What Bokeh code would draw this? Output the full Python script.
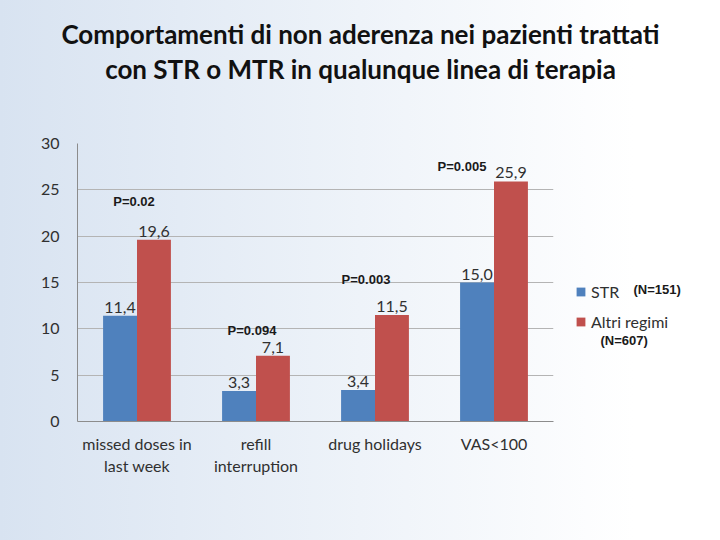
from bokeh.core.properties import value
from bokeh.embed import file_html
from bokeh.layouts import column, row
from bokeh.models import (CategoricalAxis, ColumnDataSource, FactorRange, Label, Legend, LegendItem,
                          Range1d, SingleIntervalTicker)
from bokeh.plotting import figure
from bokeh.resources import INLINE
from bokeh.transform import dodge

# data
title_lines = ["Comportamenti di non aderenza nei pazienti trattati",
               "con STR o MTR in qualunque linea di terapia"]
label_line1 = ["missed doses in", "refill", "drug holidays", "VAS<100"]
label_line2 = ["last week", "interruption", " ", "  "]  # blanks kept distinct for the factor range
str_vals = [11.4, 3.3, 3.4, 15.0]
altri_vals = [19.6, 7.1, 11.5, 25.9]
p_values = ["P=0.02", "P=0.094", "P=0.003", "P=0.005"]
series_names = ["STR", "Altri regimi"]
n_labels = ["(N=151)", "(N=607)"]

FONT = "Lato"
BLUE = "#4f81bd"
RED = "#c0504d"
TXT = "#303030"


def bare(fig):
    fig.border_fill_alpha = 0
    fig.background_fill_alpha = 0
    fig.outline_line_color = None


source = ColumnDataSource(data=dict(
    cat=label_line1,
    str_v=str_vals,
    altri_v=altri_vals,
    str_t=[f"{v:.1f}".replace(".", ",") for v in str_vals],
    altri_t=[f"{v:.1f}".replace(".", ",") for v in altri_vals],
    pval=p_values,
    # pixel offsets of the p-value labels from the top of the red bar
    p_dx=[-3, -4, -9, -32],
    p_dy=[-38, -25, -35, -15],
))

# title strip
head = figure(width=720, height=110, x_range=Range1d(0, 720), y_range=Range1d(0, 110),
              output_backend="svg", toolbar_location=None, tools="", min_border=0)
head.axis.visible = False
head.grid.grid_line_color = None
bare(head)
for txt, yy in zip(title_lines, [77, 42]):
    head.add_layout(Label(x=360, y=yy, text=txt, text_align="center", text_baseline="middle",
                          text_font=FONT, text_font_size="26px", text_font_style="bold",
                          text_color="#111111"))

# bar chart
p = figure(x_range=FactorRange(factors=label_line1), y_range=Range1d(0, 30), width=565, height=430,
           output_backend="svg", toolbar_location=None, tools="",
           min_border_left=77, min_border_right=12, min_border_top=33, min_border_bottom=119)
p.extra_x_ranges = {"line2": FactorRange(factors=label_line2)}
bare(p)

w = 0.285
r1 = p.vbar(x=dodge("cat", -w / 2, range=p.x_range), top="str_v", width=w, source=source,
            fill_color=BLUE, line_color=None)
r2 = p.vbar(x=dodge("cat", w / 2, range=p.x_range), top="altri_v", width=w, source=source,
            fill_color=RED, line_color=None)

p.text(x=dodge("cat", -w / 2, range=p.x_range), y="str_v", text="str_t", source=source,
       text_align="center", text_baseline="bottom", y_offset=-3,
       text_font=value(FONT), text_font_size="16px", text_color=TXT)
p.text(x=dodge("cat", w / 2, range=p.x_range), y="altri_v", text="altri_t", source=source,
       text_align="center", text_baseline="bottom", y_offset=-3,
       text_font=value(FONT), text_font_size="16px", text_color=TXT)
p.text(x="cat", y="altri_v", text="pval", source=source, x_offset="p_dx", y_offset="p_dy",
       text_align="center", text_baseline="middle",
       text_font=value("Liberation Sans"), text_font_size="13px", text_font_style="bold",
       text_color="#1a1a1a")

# axes and grid
p.xgrid.grid_line_color = None
p.ygrid.grid_line_color = "#b4b4b4"
p.yaxis.ticker = SingleIntervalTicker(interval=5)
p.xaxis.major_label_standoff = 12
p.add_layout(CategoricalAxis(x_range_name="line2", axis_line_color=None, major_label_standoff=0),
             "below")
for ax in p.xaxis + p.yaxis:
    ax.major_tick_line_color = None
    ax.minor_tick_line_color = None
    ax.major_tick_out = 0
    ax.major_label_text_font = FONT
    ax.major_label_text_font_size = "16px"
    ax.major_label_text_color = TXT
p.xaxis[0].axis_line_color = "#8c8c8c"
p.yaxis.axis_line_color = "#8c8c8c"
p.yaxis.major_label_standoff = 14

# legend strip on the right (same top/bottom borders as the chart: row aligns the frames)
side = figure(width=155, height=430, x_range=Range1d(0, 155), y_range=Range1d(0, 278),
              output_backend="svg", toolbar_location=None, tools="",
              min_border_left=0, min_border_top=33, min_border_right=0, min_border_bottom=119)
side.axis.visible = False
side.grid.grid_line_color = None
bare(side)
proxy = ColumnDataSource(data=dict(x=[0], top=[1]))
s1 = side.vbar(x="x", top="top", width=1, source=proxy, fill_color=BLUE, line_color=None, visible=False)
s2 = side.vbar(x="x", top="top", width=1, source=proxy, fill_color=RED, line_color=None, visible=False)
legend = Legend(items=[LegendItem(label=series_names[0], renderers=[s1]),
                       LegendItem(label=series_names[1], renderers=[s2])],
                location=(10, 90), glyph_width=11, glyph_height=11, label_standoff=5,
                spacing=10, label_height=20, border_line_color=None, background_fill_alpha=0,
                inactive_fill_alpha=0, padding=0, margin=0,
                label_text_font=FONT, label_text_font_size="16px", label_text_color=TXT)
side.add_layout(legend)
for txt, xx, yy in zip(n_labels, [68, 35], [132, 81]):
    side.add_layout(Label(x=xx, y=yy, text=txt, text_baseline="middle",
                          text_font="Liberation Sans", text_font_size="13px",
                          text_font_style="bold", text_color="#1a1a1a"))

layout = column(head, row(p, side, spacing=0), spacing=0)
layout.styles = {"background": "linear-gradient(90deg, #d8e3f1 0%, #eef3f9 50%, #ffffff 88%)"}

open("out.html", "w").write(file_html(layout, INLINE))
